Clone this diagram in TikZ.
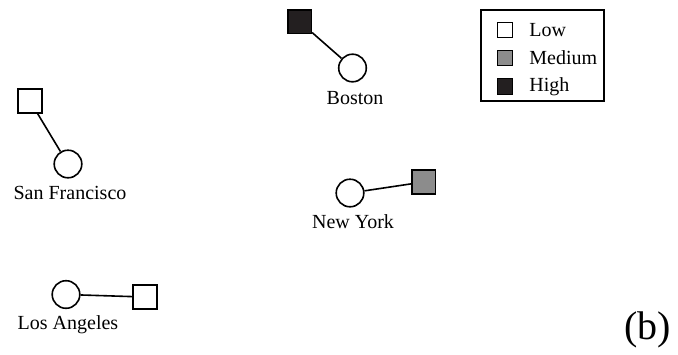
\documentclass[tikz,border=0pt]{standalone}
\usepackage{fontspec}
\setmainfont{Liberation Serif}
\usetikzlibrary{positioning}
\definecolor{lowtone}{HTML}{FFFFFF}
\definecolor{medtone}{HTML}{8C8C8C}
\definecolor{hightone}{HTML}{231F20}
\begin{document}
\begin{tikzpicture}[
  x=0.5pt, y=-0.5pt,
  citynode/.style={circle, draw, line width=0.8pt, fill=white,
                   minimum size=13.8pt, inner sep=0pt},
  loadbox/.style={rectangle, draw, line width=0.8pt, fill=#1,
                  minimum size=11.8pt, inner sep=0pt},
  keybox/.style={rectangle, draw, line width=0.6pt, fill=#1,
                 minimum size=7.8pt, inner sep=0pt},
  citylabel/.style={font=\fontsize{10}{12}\selectfont, inner sep=0pt},
  link/.style={line width=0.8pt}
]
\useasboundingbox (0,0) rectangle (678,354);

% === Boston ===
\node[loadbox=hightone] (bosload) at (299.5,21.5) {};
\node[citynode] (boston) at (352.5,68) {};
\node[citylabel] (boslabel) at (355,98) {Boston};
\draw[link] (bosload) -- (boston);

% === San Francisco ===
\node[loadbox=lowtone] (sfload) at (30,101) {};
\node[citynode] (sanfran) at (68,164) {};
\node[citylabel] (sflabel) at (70,193) {San Francisco};
\draw[link] (sfload) -- (sanfran);

% === New York ===
\node[citynode] (newyork) at (350,193) {};
\node[loadbox=medtone] (nyload) at (423.5,182) {};
\node[citylabel] (nylabel) at (353,222) {New York};
\draw[link] (newyork) -- (nyload);

% === Los Angeles ===
\node[citynode] (losang) at (66,294.5) {};
\node[loadbox=lowtone] (laload) at (145,297) {};
\node[citylabel] (lalabel) at (68,325) {Los Angeles};
\draw[link] (losang) -- (laload);

% === Legend ===
\node[draw, line width=0.6pt, minimum width=61.5pt, minimum height=45.5pt,
      inner sep=0pt] (legend) at (542.5,55.5) {};
\node[keybox=lowtone] (keylow) at (505,30) {};
\node[keybox=medtone] (keymed) at (505,58) {};
\node[keybox=hightone] (keyhigh) at (505,86.5) {};
\node[citylabel, anchor=west] at (529,30) {Low};
\node[citylabel, anchor=west] at (529,58) {Medium};
\node[citylabel, anchor=west] at (529,86.5) {High};

% === Panel tag ===
\node[font=\fontsize{20}{22}\selectfont, inner sep=0pt] (tag) at (647.5,330) {(b)};

\end{tikzpicture}
\end{document}
